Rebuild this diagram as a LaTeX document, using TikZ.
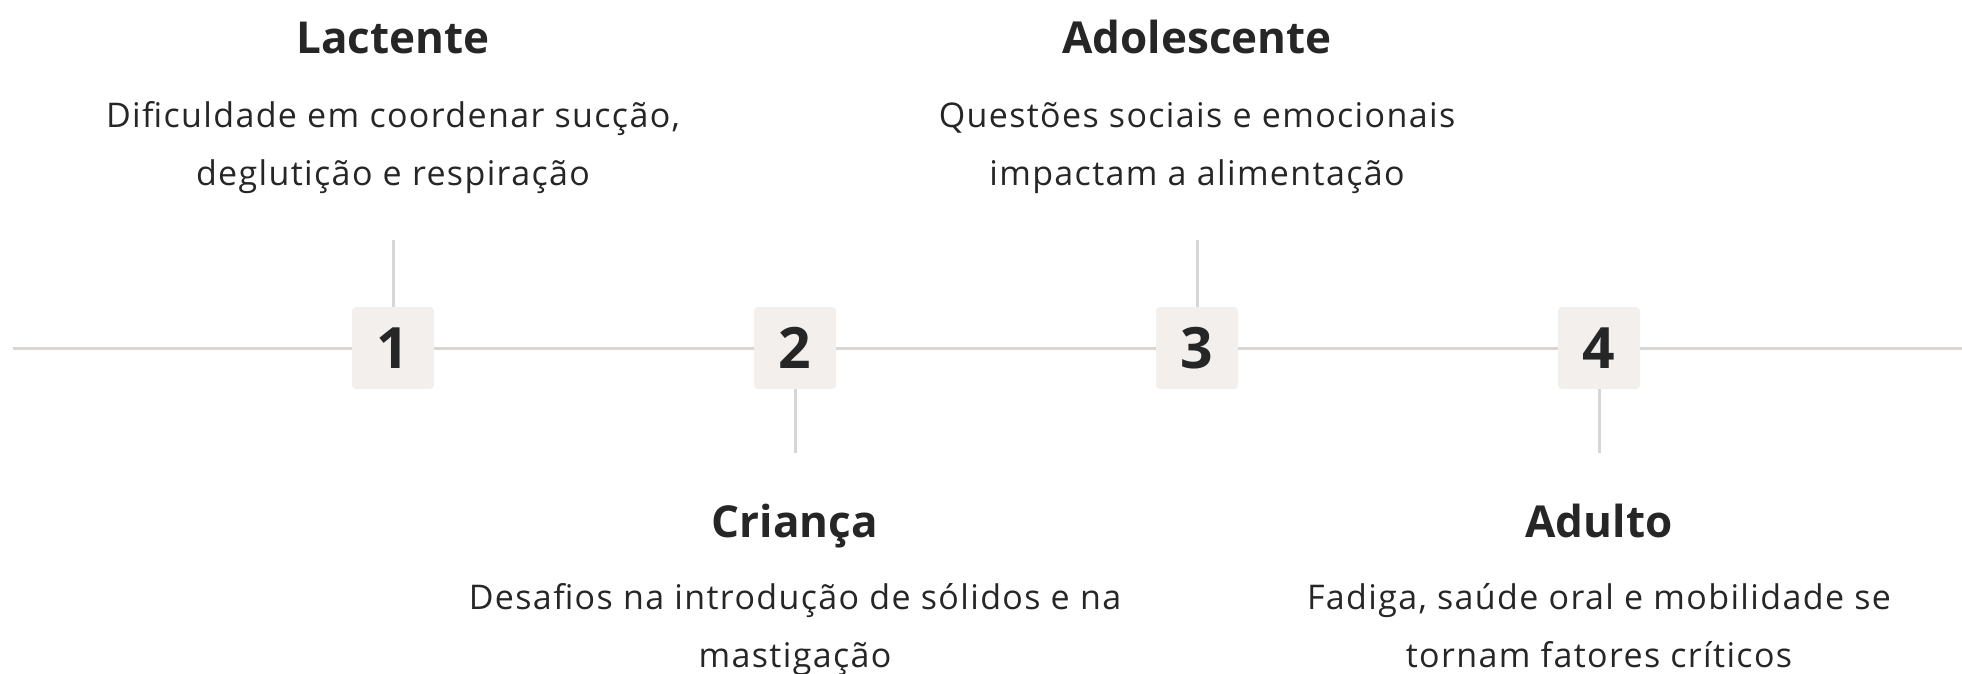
\documentclass[tikz,border=0pt]{standalone}
\usepackage{fontspec}
\setmainfont{Open Sans}
\definecolor{ink}{HTML}{262626}
\definecolor{rail}{HTML}{D8D5D3}
\definecolor{boxfill}{HTML}{F2EFED}
\begin{document}
\begin{tikzpicture}[x=1pt,y=-1pt,
 numbox/.style={fill=boxfill, rounded corners=4pt, minimum size=82pt, inner sep=0pt, text=ink, font=\fontsize{57}{57}\selectfont\bfseries},
 railline/.style={draw=rail, line width=3pt},
 ttl/.style={anchor=base, text=ink, font=\fontsize{44}{44}\selectfont\bfseries, inner sep=0pt},
 desc/.style={anchor=base, text=ink, align=center, font=\fontsize{34}{57.6}\selectfont\addfontfeature{LetterSpace=4}, inner sep=0pt}]
\useasboundingbox (0,0) rectangle (1962,674);
\coordinate (railL) at (13,348);
\coordinate (railR) at (1962,348);
\draw[railline] (railL) -- (railR);
\node[numbox] (n1) at (393,348) {1};
\node[numbox] (n2) at (795,348) {2};
\node[numbox] (n3) at (1197,348) {3};
\node[numbox] (n4) at (1599,348) {4};
\coordinate (t1) at (393,240);
\coordinate (t2) at (795,453);
\coordinate (t3) at (1197,240);
\coordinate (t4) at (1599,453);
\draw[railline] (t1) -- (n1.north);
\draw[railline] (n2.south) -- (t2);
\draw[railline] (t3) -- (n3.north);
\draw[railline] (n4.south) -- (t4);
\node[ttl] (h1) at (393,54) {Lactente};
\node[desc] (d1) at (393,185) {Dificuldade em coordenar sucção,\\deglutição e respiração};
\node[ttl] (h3) at (1197,54) {Adolescente};
\node[desc] (d3) at (1197,185) {Questões sociais e emocionais\\impactam a alimentação};
\node[ttl] (h2) at (795,537) {Criança};
\node[desc] (d2) at (795,667) {Desafios na introdução de sólidos e na\\mastigação};
\node[ttl] (h4) at (1599,537) {Adulto};
\node[desc] (d4) at (1599,667) {Fadiga, saúde oral e mobilidade se\\tornam fatores críticos};
\end{tikzpicture}
\end{document}
